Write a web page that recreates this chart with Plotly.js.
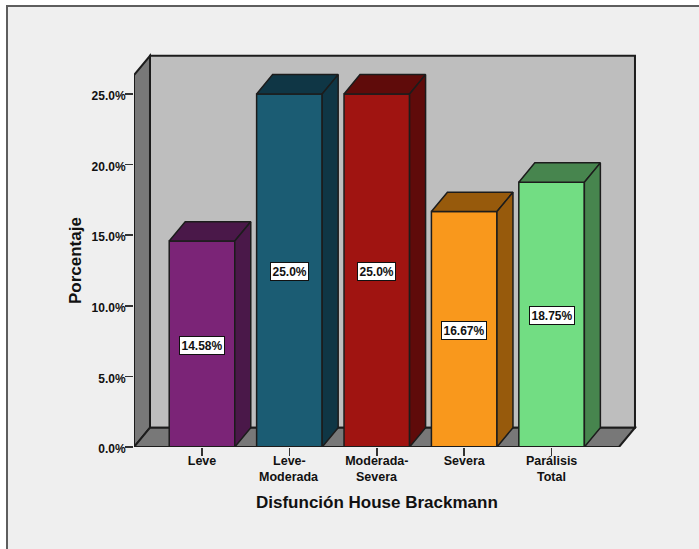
<!DOCTYPE html>
<html>
<head>
<meta charset="utf-8">
<script src="https://cdn.plot.ly/plotly-3.0.1.min.js"></script>
<style>
  html, body { margin: 0; padding: 0; width: 699px; height: 549px; overflow: hidden; background: #ffffff; }
  #panel { position: absolute; left: 6px; top: 5px; width: 720px; height: 580px; background: #efefef; border: 2px solid #5e5e5e; box-sizing: border-box; }
  #chart { position: absolute; left: 0; top: 0; width: 699px; height: 549px; }
</style>
</head>
<body>
<div id="panel"></div>
<div id="chart"></div>
<script>
// Disfunción House Brackmann: share of patients per grade
const tickFirstLines = ["Leve", "Leve-", "Moderada-", "Severa", "Parálisis"];
const tickSecondLines = ["", "Moderada", "Severa", "", "Total"];
const values = [14.58, 25.0, 25.0, 16.67, 18.75];
const valueLabels = ["14.58%", "25.0%", "25.0%", "16.67%", "18.75%"];
const yTicks = [0, 5, 10, 15, 20, 25];
const yTickLabels = ["0.0%", "5.0%", "10.0%", "15.0%", "20.0%", "25.0%"];
const frontColors = ["#7b2477", "#1b5c73", "#a01411", "#f9981c", "#72dd83"];
const shadeColors = ["#4a1849", "#0f3645", "#5f0b0a", "#975a0c", "#47854e"];

// Oblique projection of the box: how far the back plane is shifted, in axis units
const depthX = 0.183, depthY = 1.37;
const barWidth = 0.75;
const xLeft = -0.778, xRight = 4.771, yTop = 26.33;
const edge = "#1c1c1c";
const W = 699, H = 549;

const xs = values.map((_, i) => i);
const font = { family: "'Liberation Sans', Arial, sans-serif", color: "#111111" };

const traces = [{
  type: "bar", x: xs, y: values, width: barWidth,
  marker: { color: frontColors, line: { color: edge, width: 1.5 } },
  hoverinfo: "skip", showlegend: false
}];

// Top and right faces of each bar
values.forEach((v, i) => {
  const l = i - barWidth / 2, r = i + barWidth / 2;
  const face = (px, py) => ({
    type: "scatter", mode: "lines", x: px, y: py, fill: "toself", fillcolor: shadeColors[i],
    line: { color: edge, width: 1.5 }, hoverinfo: "skip", showlegend: false, cliponaxis: false
  });
  traces.push(face([l, l + depthX, r + depthX, r, l], [v, v + depthY, v + depthY, v, v]));
  traces.push(face([r, r + depthX, r + depthX, r, r], [0, depthY, v + depthY, v, 0]));
});

// Front edges of the side wall and floor sit on the plot border, so they stay unclipped
traces.push({
  type: "scatter", mode: "lines", x: [xLeft, xLeft, xRight], y: [yTop, 0, 0],
  line: { color: edge, width: 2 }, hoverinfo: "skip", showlegend: false, cliponaxis: false
});

const wall = (path, color) => ({
  type: "path", path, xref: "x", yref: "y", layer: "below",
  fillcolor: color, line: { color: edge, width: 2 }
});
const bx0 = xLeft + depthX, bx1 = xRight + depthX, by1 = yTop + depthY;
const shapes = [
  wall(`M${bx0},${depthY} L${bx1},${depthY} L${bx1},${by1} L${bx0},${by1} Z`, "#bebebe"),
  wall(`M${xLeft},0 L${bx0},${depthY} L${bx0},${by1} L${xLeft},${yTop} Z`, "#787878"),
  wall(`M${xLeft},0 L${xRight},0 L${bx1},${depthY} L${bx0},${depthY} Z`, "#787878")
];

const annotations = values.map((v, i) => ({
  x: i, y: v / 2, xref: "x", yref: "y", text: valueLabels[i], showarrow: false,
  yshift: -1, bgcolor: "#ffffff", bordercolor: "#111111", borderwidth: 1, borderpad: 1.5,
  font: { ...font, size: 12, weight: 700 }
}));
tickSecondLines.forEach((t, i) => {
  if (!t) return;
  annotations.push({
    x: i, y: 0, xref: "x", yref: "y", text: t, showarrow: false,
    xanchor: "center", yanchor: "middle", yshift: -29.5,
    font: { ...font, size: 12.5, weight: 700 }
  });
});

// Axis titles, centred on the middle category and on the wall height
annotations.push({
  x: 2, y: 0, xref: "x", yref: "y", text: "Disfunción House Brackmann", showarrow: false,
  xanchor: "center", yanchor: "middle", yshift: -55,
  font: { ...font, size: 17, weight: 700 }
});
annotations.push({
  x: xLeft, y: 13.17, xref: "x", yref: "y", text: "Porcentaje", showarrow: false, textangle: -90,
  xanchor: "center", yanchor: "middle", xshift: -59,
  font: { ...font, size: 17, weight: 700 }
});

const layout = {
  width: W, height: H, autosize: false,
  paper_bgcolor: "rgba(0,0,0,0)", plot_bgcolor: "rgba(0,0,0,0)",
  margin: { l: 134, r: 60, t: 53, b: 102, pad: 0 },
  bargap: 0, showlegend: false,
  shapes, annotations,
  xaxis: {
    range: [xLeft, 5.0], tickmode: "array", tickvals: xs, ticktext: tickFirstLines,
    ticks: "outside", ticklen: 8, tickwidth: 1.5, tickcolor: "#333333",
    ticklabelstandoff: -6,
    showgrid: false, zeroline: false, showline: false,
    tickfont: { ...font, size: 12.5, weight: 700 }
  },
  yaxis: {
    range: [0, 27.9], tickmode: "array", tickvals: yTicks, ticktext: yTickLabels,
    ticks: "outside", ticklen: 8, tickwidth: 1.5, tickcolor: "#333333",
    ticklabelstandoff: -3, ticklabelshift: 2,
    showgrid: false, zeroline: false, showline: false,
    tickfont: { ...font, size: 12, weight: 700 }
  }
};

Plotly.newPlot("chart", traces, layout, { displayModeBar: false, staticPlot: true });
</script>
</body>
</html>
